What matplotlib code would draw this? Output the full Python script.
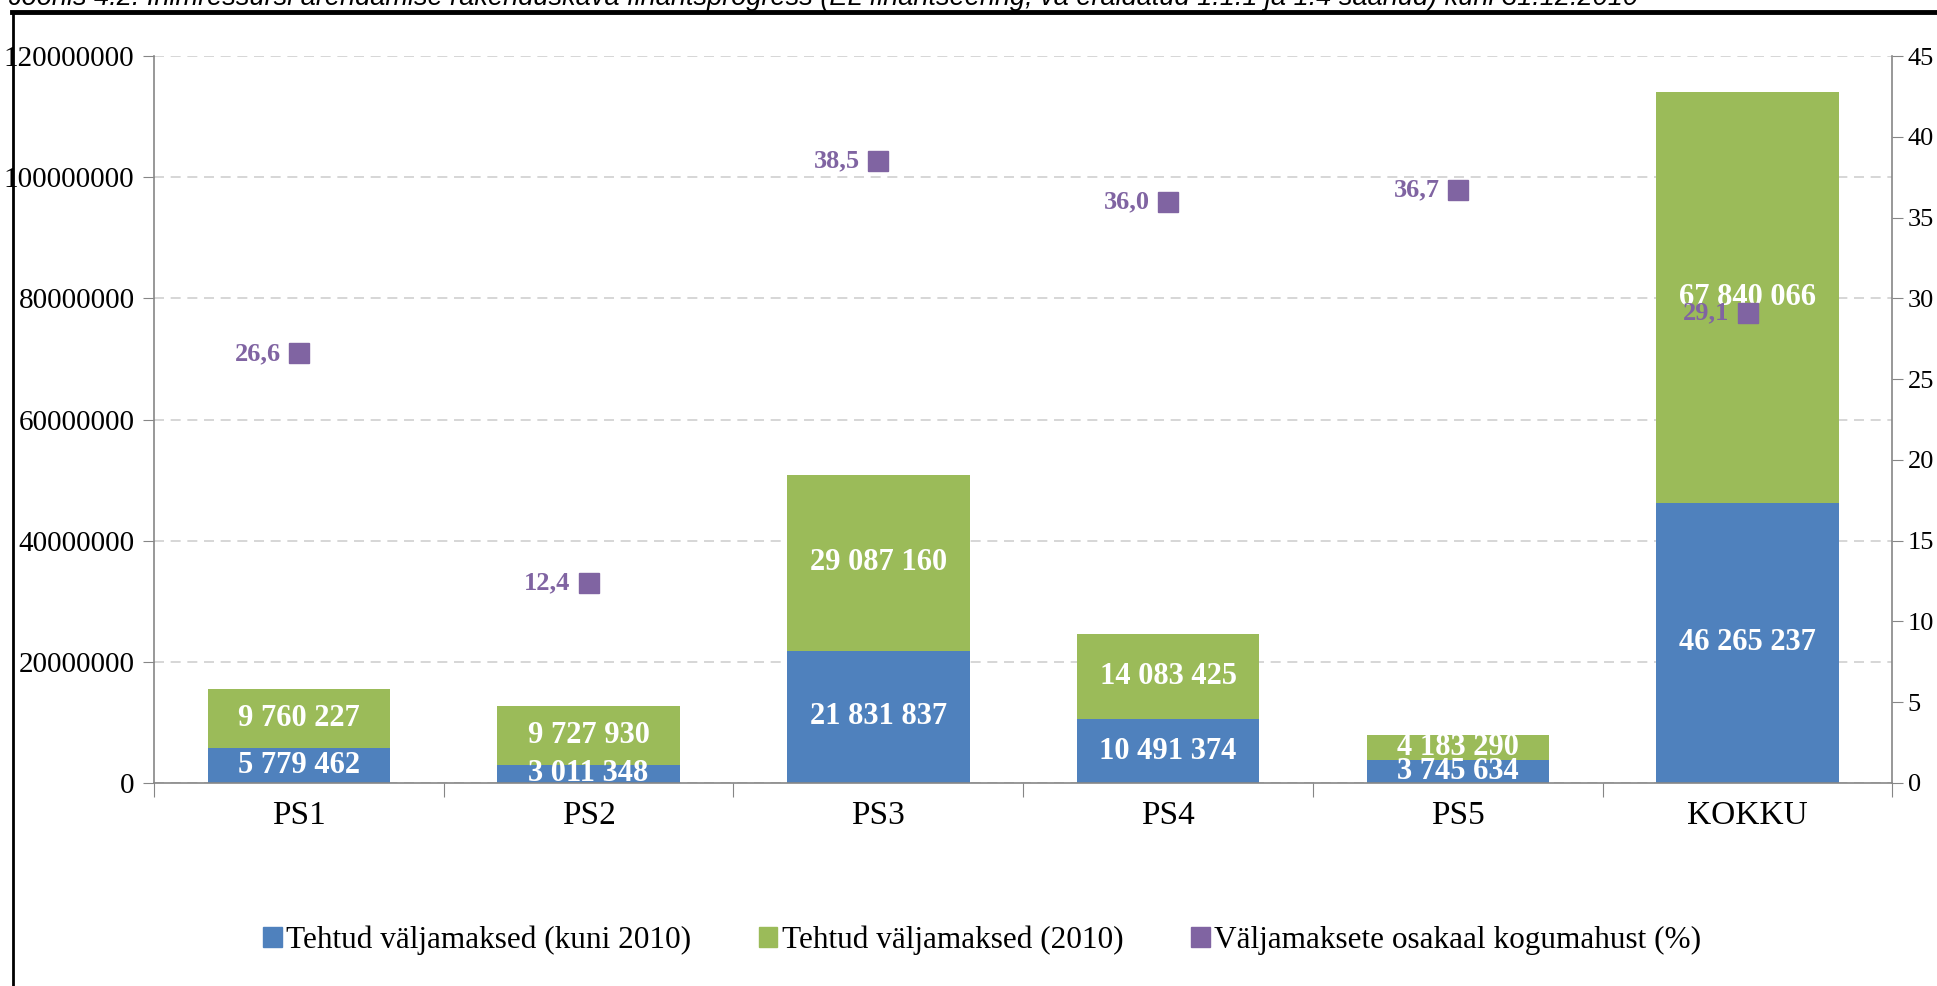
import matplotlib
matplotlib.use("Agg")
import matplotlib.pyplot as plt
import numpy as np
from matplotlib.lines import Line2D
from matplotlib.patches import Patch

# Andmed
categories = ["PS1", "PS2", "PS3", "PS4", "PS5", "KOKKU"]
paid_until_2010 = [5779462, 3011348, 21831837, 10491374, 3745634, 46265237]
paid_2010 = [9760227, 9727930, 29087160, 14083425, 4183290, 67840066]
share_pct = [26.6, 12.4, 38.5, 36.0, 36.7, 29.1]

legend_labels = ["Tehtud väljamaksed (kuni 2010)",
                 "Tehtud väljamaksed (2010)",
                 "Väljamaksete osakaal kogumahust (%)"]
title = ("Joonis 4.2. Inimressursi arendamise rakenduskava finantsprogress "
         "(EL finantseering, va eraldatud 1.1.1 ja 1.4 saanud) kuni 31.12.2010")

BLUE = "#4F81BD"
GREEN = "#9BBB59"
PURPLE = "#8064A2"
AXIS_GRAY = "#868686"
SERIF = "Liberation Serif"


def fmt_space(v):
    return f"{v:,}".replace(",", " ")


fig = plt.figure(figsize=(19.37, 9.86), dpi=100)
ax = fig.add_axes([0.0795, 0.206, 0.8975, 0.737])
ax2 = ax.twinx()

x = np.arange(len(categories))
ax.bar(x, paid_until_2010, width=0.63, color=BLUE, zorder=2)
ax.bar(x, paid_2010, width=0.63, bottom=paid_until_2010, color=GREEN, zorder=2)

# Väärtused tulpade sisse
for i in range(len(categories)):
    ax.text(x[i], paid_until_2010[i] / 2, fmt_space(paid_until_2010[i]),
            ha="center", va="center", color="white", fontsize=22,
            fontweight="bold", family=SERIF, clip_on=True, zorder=3)
    ax.text(x[i], paid_until_2010[i] + paid_2010[i] / 2, fmt_space(paid_2010[i]),
            ha="center", va="center", color="white", fontsize=22,
            fontweight="bold", family=SERIF, zorder=3)

ax.set_xlim(-0.5, len(categories) - 0.5)
ax.set_ylim(0, 120000000)
ax.set_yticks(np.arange(0, 120000001, 20000000))
ax.set_yticklabels([str(v) for v in range(0, 120000001, 20000000)],
                   family=SERIF, fontsize=21)
ax.grid(axis="y", color="#D0D0D0", linestyle=(0, (6, 4)), linewidth=1.2, zorder=0)
ax.set_axisbelow(True)

# x-teljel kriipsud kategooriate vahel, sildid keskel
ax.set_xticks(np.arange(-0.5, len(categories), 1.0))
ax.set_xticklabels([])
ax.set_xticks(x, minor=True)
ax.set_xticklabels(categories, minor=True, family=SERIF, fontsize=24)
ax.tick_params(axis="x", which="major", length=10, color=AXIS_GRAY, direction="out")
ax.tick_params(axis="x", which="minor", length=0, pad=13)
ax.tick_params(axis="y", length=8, color=AXIS_GRAY, pad=6)

for name in ["top", "right"]:
    ax.spines[name].set_visible(False)
    ax2.spines[name].set_visible(name == "right")
for s in [ax.spines["left"], ax.spines["bottom"], ax2.spines["right"]]:
    s.set_color(AXIS_GRAY)
    s.set_linewidth(1.2)
ax2.spines["left"].set_visible(False)
ax2.spines["bottom"].set_visible(False)

# Osakaal parempoolsel teljel
ax2.plot(x, share_pct, linestyle="none", marker="s", markersize=15,
         color=PURPLE, zorder=4)
for i in range(len(categories)):
    ax2.annotate(f"{share_pct[i]:.1f}".replace(".", ","), (x[i], share_pct[i]),
                 xytext=(-13, 0), textcoords="offset points", ha="right",
                 va="center", color=PURPLE, fontsize=19, fontweight="bold",
                 family=SERIF)
ax2.set_ylim(0, 45)
ax2.set_yticks(np.arange(0, 46, 5))
ax2.set_yticklabels([str(v) for v in range(0, 46, 5)], family=SERIF, fontsize=19)
ax2.tick_params(axis="y", length=8, color=AXIS_GRAY, pad=3)

handles = [Patch(color=BLUE), Patch(color=GREEN), Patch(color=PURPLE)]
fig.legend(handles, legend_labels, loc="center", bbox_to_anchor=(0.507, 0.046),
           ncol=3, frameon=False, prop={"family": SERIF, "size": 22.5},
           handlelength=0.6, handleheight=0.6, handletextpad=0.15,
           columnspacing=2.15)

# Raam ja äralõigatud pealkiri
fig.add_artist(Line2D([0.006, 1.0], [0.988, 0.988], color="black", linewidth=3.5,
                      transform=fig.transFigure))
fig.add_artist(Line2D([0.0065, 0.0065], [0.0, 0.988], color="black", linewidth=2,
                      transform=fig.transFigure))
fig.text(0.004, 1 - 5 / 986, title, ha="left", va="baseline", fontsize=19.5,
         style="italic", family="Liberation Sans")

fig.savefig("out.png", dpi=100)
